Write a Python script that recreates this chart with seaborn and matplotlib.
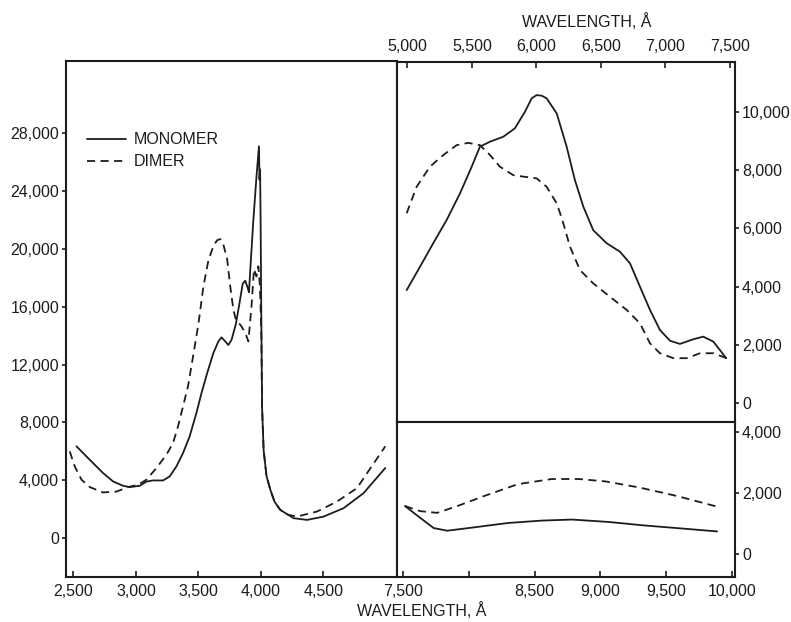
import numpy as np
import pandas as pd
import matplotlib
matplotlib.use("Agg")
import matplotlib.pyplot as plt
from matplotlib.ticker import FixedLocator, FuncFormatter
import seaborn as sns

# ---- ultraviolet / near-visible region (left panel) ----
uv_mono_wl = [2524, 2604, 2657, 2737, 2817, 2897, 2950, 3030, 3084, 3137, 3217, 3270,
              3324, 3377, 3430, 3484, 3524, 3570, 3620, 3660, 3685, 3715, 3740, 3765,
              3800, 3830, 3855, 3875, 3895, 3905, 3915, 3940, 3965, 3985, 3989, 3994,
              3998, 4004, 4010, 4022, 4045, 4076, 4110, 4156, 4262, 4370, 4502, 4662,
              4822, 4996]
uv_mono_eps = [6340, 5640, 5180, 4490, 3910, 3610, 3520, 3610, 3900, 3980, 3980, 4260,
               4950, 5880, 7030, 8650, 10000, 11400, 12800, 13600, 13880, 13600, 13350, 13700,
               14800, 16300, 17600, 17800, 17300, 17000, 18500, 22000, 25000, 27100, 24800, 25500,
               22000, 15000, 9000, 6100, 4300, 3330, 2500, 1940, 1370, 1250, 1480, 2060,
               3100, 4840]

uv_dimer_wl = [2470, 2510, 2564, 2631, 2737, 2844, 2937, 3017, 3084, 3164, 3244, 3297,
               3337, 3377, 3417, 3460, 3500, 3540, 3580, 3620, 3650, 3675, 3700, 3730,
               3755, 3780, 3800, 3840, 3875, 3900, 3925, 3945, 3965, 3980, 3992, 3998,
               4004, 4010, 4022, 4045, 4076, 4110, 4156, 4220, 4290, 4450, 4610, 4770,
               4850, 4996]
uv_dimer_eps = [5990, 4950, 4030, 3520, 3150, 3210, 3520, 3680, 4030, 4840, 5760, 6570,
                7720, 9110, 10500, 12700, 14800, 17400, 19200, 20200, 20600, 20680, 20300, 19300,
                17400, 15800, 15100, 14700, 14200, 13600, 16000, 18600, 18100, 18800, 17500, 16000,
                14000, 9000, 6100, 4300, 3330, 2500, 1940, 1600, 1480, 1830, 2520, 3450,
                4480, 6340]

# ---- visible region (upper right panel) ----
vis_mono_wl = [4994, 5097, 5200, 5304, 5407, 5498, 5562, 5640, 5743, 5833, 5911, 5963,
               6001, 6040, 6079, 6157, 6234, 6298, 6363, 6440, 6544, 6647, 6725, 6802,
               6880, 6957, 7035, 7112, 7216, 7293, 7371, 7422, 7470]
vis_mono_eps = [3880, 4680, 5490, 6290, 7200, 8120, 8810, 8980, 9150, 9440, 10010, 10470,
                10580, 10560, 10470, 9950, 8810, 7660, 6750, 5940, 5490, 5200, 4800, 4000,
                3200, 2510, 2140, 2030, 2190, 2280, 2110, 1820, 1540]

vis_dimer_wl = [4994, 5071, 5174, 5278, 5381, 5471, 5562, 5640, 5717, 5820, 5898, 6001,
                6079, 6157, 6200, 6260, 6337, 6440, 6570, 6699, 6802, 6880, 6957, 7061,
                7164, 7268, 7371, 7474]
vis_dimer_eps = [6520, 7430, 8120, 8520, 8860, 8940, 8860, 8520, 8120, 7830, 7780, 7720,
                 7430, 6860, 6300, 5370, 4570, 4110, 3650, 3200, 2740, 2050, 1710, 1540,
                 1540, 1710, 1710, 1540]

# ---- near-infrared region (lower right panel) ----
nir_mono_wl = [7515, 7631, 7733, 7836, 8041, 8298, 8554, 8785, 9066, 9323, 9580, 9887]
nir_mono_eps = [1567, 1177, 843, 756, 867, 1010, 1089, 1123, 1043, 933, 843, 733]

nir_dimer_wl = [7515, 7631, 7759, 7913, 8118, 8374, 8631, 8836, 9041, 9297, 9580, 9900]
nir_dimer_eps = [1567, 1400, 1343, 1567, 1900, 2290, 2457, 2457, 2377, 2177, 1900, 1533]

forms = ["MONOMER", "DIMER"]

uv_ticks = [2500, 3000, 3500, 4000, 4500]
uv_eps_ticks = [0, 4000, 8000, 12000, 16000, 20000, 24000, 28000]
vis_ticks = [5000, 5500, 6000, 6500, 7000, 7500]
vis_eps_ticks = [0, 2000, 4000, 6000, 8000, 10000]
nir_ticks = [7500, 8000, 8500, 9000, 9500, 10000]
nir_tick_labels = ["7,500", "", "8,500", "9,000", "9,500", "10,000"]
nir_eps_ticks = [0, 2000, 4000]

axis_title = "WAVELENGTH, Å"


def frame(wl_m, eps_m, wl_d, eps_d):
    return pd.concat([
        pd.DataFrame({"wl": wl_m, "eps": eps_m, "form": forms[0]}),
        pd.DataFrame({"wl": wl_d, "eps": eps_d, "form": forms[1]}),
    ], ignore_index=True)


sns.set_theme(style="white")
plt.rcParams["font.family"] = ["Liberation Sans", "DejaVu Sans"]

ink = "#1c1c1c"
fs = 11.5
comma = FuncFormatter(lambda v, p: f"{int(v):,}")

fig = plt.figure(figsize=(7.91, 6.22), dpi=100)
fig.patch.set_facecolor("white")

W, H = 791.0, 622.0
ax_uv = fig.add_axes([66 / W, 1 - 577 / H, 331 / W, 516 / H])
ax_vis = fig.add_axes([397 / W, 1 - 422 / H, 338 / W, 360 / H])
ax_nir = fig.add_axes([397 / W, 1 - 577 / H, 338 / W, 155 / H])

dash_map = {"MONOMER": "", "DIMER": (4.5, 3.0)}

for ax, data in [
    (ax_uv, frame(uv_mono_wl, uv_mono_eps, uv_dimer_wl, uv_dimer_eps)),
    (ax_vis, frame(vis_mono_wl, vis_mono_eps, vis_dimer_wl, vis_dimer_eps)),
    (ax_nir, frame(nir_mono_wl, nir_mono_eps, nir_dimer_wl, nir_dimer_eps)),
]:
    sns.lineplot(data=data, x="wl", y="eps", style="form", style_order=forms,
                 dashes=dash_map, color=ink, linewidth=1.3, sort=False,
                 estimator=None, legend=False, ax=ax)
    ax.set_xlabel("")
    ax.set_ylabel("")
    ax.set_facecolor("white")
    for line in ax.get_lines():
        line.set_solid_joinstyle("round")
        line.set_dash_joinstyle("round")
    for s in ax.spines.values():
        s.set_visible(True)
        s.set_color(ink)
        s.set_linewidth(1.5)

# left panel: ultraviolet
ax_uv.set_xlim(2440, 5090)
ax_uv.set_ylim(-2700, 33000)
ax_uv.xaxis.set_major_locator(FixedLocator(uv_ticks))
ax_uv.yaxis.set_major_locator(FixedLocator(uv_eps_ticks))
ax_uv.xaxis.set_major_formatter(comma)
ax_uv.yaxis.set_major_formatter(comma)
ax_uv.tick_params(axis="x", direction="in", length=4, width=1.2, pad=5,
                  labelsize=fs, colors=ink, bottom=True)
ax_uv.tick_params(axis="y", direction="out", length=3, width=1.2, pad=2,
                  labelsize=fs, colors=ink, left=True)

# upper right panel: visible
ax_vis.set_xlim(4919, 7539)
ax_vis.set_ylim(-653, 11718)
ax_vis.xaxis.set_major_locator(FixedLocator(vis_ticks))
ax_vis.yaxis.set_major_locator(FixedLocator(vis_eps_ticks))
ax_vis.xaxis.set_major_formatter(comma)
ax_vis.yaxis.set_major_formatter(comma)
ax_vis.xaxis.tick_top()
ax_vis.yaxis.tick_right()
ax_vis.tick_params(axis="x", direction="in", length=4, width=1.2, pad=6,
                   labelsize=fs, colors=ink, top=True, bottom=False)
ax_vis.tick_params(axis="y", direction="out", length=3, width=1.2, pad=2,
                   labelsize=fs, colors=ink, right=True, left=False)

# lower right panel: near infrared
ax_nir.set_xlim(7454, 10023)
ax_nir.set_ylim(-767, 4333)
ax_nir.xaxis.set_major_locator(FixedLocator(nir_ticks))
ax_nir.xaxis.set_ticklabels(nir_tick_labels)
ax_nir.yaxis.set_major_locator(FixedLocator(nir_eps_ticks))
ax_nir.yaxis.set_major_formatter(comma)
ax_nir.yaxis.tick_right()
ax_nir.tick_params(axis="x", direction="in", length=4, width=1.2, pad=5,
                   labelsize=fs, colors=ink, bottom=True)
ax_nir.tick_params(axis="y", direction="out", length=3, width=1.2, pad=2,
                   labelsize=fs, colors=ink, right=True, left=False)

# legend drawn from the plotted lines
handles = ax_uv.get_lines()[:2]
leg = ax_uv.legend(handles, forms, loc="upper left", bbox_to_anchor=(0.062, 0.862),
                   frameon=False, fontsize=fs, handlelength=2.5, handletextpad=0.45,
                   labelspacing=0.45, borderpad=0, borderaxespad=0)
for t in leg.get_texts():
    t.set_color(ink)

fig.text(587 / W, 1 - 22 / H, axis_title, ha="center", va="center", fontsize=fs, color=ink)
fig.text(422 / W, 1 - 611 / H, axis_title, ha="center", va="center", fontsize=fs, color=ink)

fig.savefig("out.png", dpi=100, facecolor="white")
